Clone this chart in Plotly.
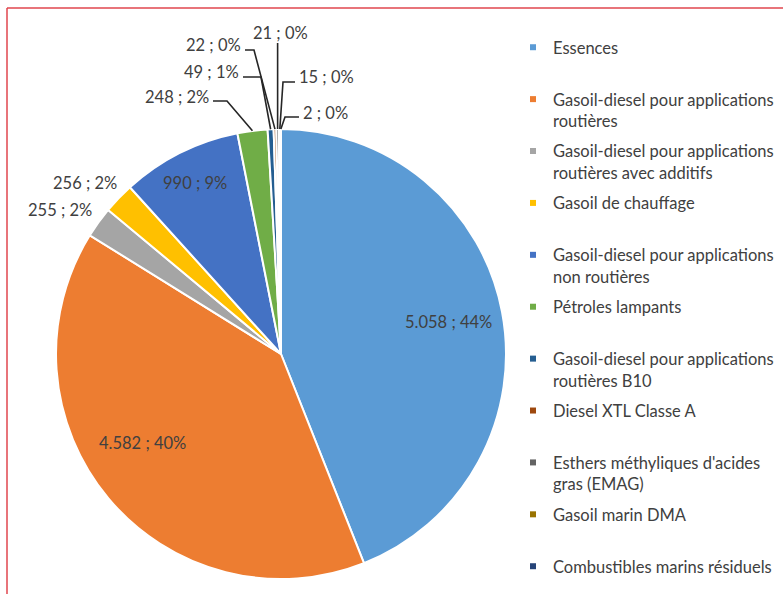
import math
import plotly.graph_objects as go

# ---------------- data ----------------
categories = [
    "Essences",
    "Gasoil-diesel pour applications routières",
    "Gasoil-diesel pour applications routières avec additifs",
    "Gasoil de chauffage",
    "Gasoil-diesel pour applications non routières",
    "Pétroles lampants",
    "Gasoil-diesel pour applications routières B10",
    "Diesel XTL Classe A",
    "Esthers méthyliques d'acides gras (EMAG)",
    "Gasoil marin DMA",
    "Combustibles marins résiduels",
]
legend_labels = [
    "Essences",
    "Gasoil-diesel pour applications<br>routières",
    "Gasoil-diesel pour applications<br>routières avec additifs",
    "Gasoil de chauffage",
    "Gasoil-diesel pour applications<br>non routières",
    "Pétroles lampants",
    "Gasoil-diesel pour applications<br>routières B10",
    "Diesel XTL Classe A",
    "Esthers méthyliques d'acides<br>gras (EMAG)",
    "Gasoil marin DMA",
    "Combustibles marins résiduels",
]
values = [5058, 4582, 255, 256, 990, 248, 49, 22, 21, 15, 2]
pct_labels = [44, 40, 2, 2, 9, 2, 1, 0, 0, 0, 0]
colors = ["#5B9BD5", "#ED7D31", "#A5A5A5", "#FFC000", "#4472C4", "#70AD47",
          "#255E91", "#9E480E", "#636363", "#997300", "#264478"]

# ---------------- layout constants ----------------
W, H = 783, 594
CX, CY, R = 281, 354, 225
FONT = "Lato, 'Open Sans', sans-serif"
TXT = "#404040"
FS = 16.5
total = sum(values)


def px2paper(x, y):
    return x / W, 1 - y / H


def slice_point(i, frac):
    mid = sum(values[:i]) + values[i] / 2
    th = 2 * math.pi * mid / total
    return CX + frac * R * math.sin(th), CY - frac * R * math.cos(th)


def label_text(i):
    return f"{values[i]:,}".replace(",", ".") + f" ; {pct_labels[i]}%"


fig = go.Figure()
fig.add_trace(go.Pie(
    labels=categories, values=values, sort=False, direction="clockwise",
    rotation=0, marker=dict(colors=colors, line=dict(color="white", width=2)),
    textinfo="none", showlegend=False, hoverinfo="label+value+percent",
    domain=dict(x=[(CX - R) / W, (CX + R) / W],
                y=[(H - CY - R) / H, (H - CY + R) / H]),
))

# legend entries (small square markers)
for i, (lab, col) in enumerate(zip(legend_labels, colors)):
    name = lab if ("<br>" in lab or i == len(legend_labels) - 1) else lab + "<br> "
    fig.add_trace(go.Scatter(x=[None], y=[None], mode="markers", name=name,
                             legendgroup=str(i),
                             marker=dict(symbol="square", size=6, color=col)))

annotations = []
shapes = []
lab_font = dict(size=FS, color=TXT, family=FONT)

# labels placed relative to their slice: index -> (radial fraction, dx, dy, xanchor)
placed = {
    0: (0.76, 0, 0, "center"),
    1: (0.73, -13, -16, "center"),
    4: (0.85, 0, 0, "center"),
    2: (1.0, -5, -12, "right"),
    3: (1.0, 0, -15, "right"),
}
for i, (fr, dx, dy, anc) in placed.items():
    x, y = slice_point(i, fr)
    xp, yp = px2paper(x + dx, y + dy)
    annotations.append(dict(x=xp, y=yp, xref="paper", yref="paper", text=label_text(i),
                            xanchor=anc, yanchor="middle", showarrow=False, font=lab_font))

# outside labels with leader lines: (text x, text y, anchor, line start x, line y, elbow x)
leaders = {
    5: (211, 97, "right", 213, 101, 227),
    6: (241, 72, "right", 243, 77, 261),
    7: (243, 45, "right", 245, 50, 254),
    8: (280, 33, "center", None, 43, None),
    9: (297, 77, "left", 295, 82, 283),
    10: (301, 113, "left", 299, 117, 285),
}
for i, (tx, ty, anc, sx, ly, ex) in leaders.items():
    xp, yp = px2paper(tx, ty)
    annotations.append(dict(x=xp, y=yp, xref="paper", yref="paper", text=label_text(i),
                            xanchor=anc, yanchor="middle", showarrow=False, font=lab_font))
    px_, py_ = slice_point(i, 1.0)
    if sx is None:
        sx = ex = px_
    p = [px2paper(sx, ly), px2paper(ex, ly), px2paper(px_, py_)]
    path = "M {:.5f},{:.5f} L {:.5f},{:.5f} L {:.5f},{:.5f}".format(
        p[0][0], p[0][1], p[1][0], p[1][1], p[2][0], p[2][1])
    shapes.append(dict(type="path", xref="paper", yref="paper", path=path,
                       line=dict(color="#262626", width=1.6)))

# red frame (top and left)
bx, by = px2paper(7, 8)
shapes.append(dict(type="line", xref="paper", yref="paper", x0=bx, y0=by, x1=1, y1=by,
                   line=dict(color="#E0464E", width=1.5)))
shapes.append(dict(type="line", xref="paper", yref="paper", x0=bx, y0=by, x1=bx, y1=0,
                   line=dict(color="#E0464E", width=1.5)))

fig.update_layout(
    width=W, height=H, margin=dict(l=0, r=0, t=0, b=0),
    paper_bgcolor="white", plot_bgcolor="white",
    font=dict(family=FONT, size=FS, color=TXT),
    xaxis=dict(visible=False), yaxis=dict(visible=False),
    showlegend=True,
    legend=dict(x=(553 - 40) / W, xanchor="left", y=1 - 30 / H, yanchor="top",
                valign="top", tracegroupgap=6, itemwidth=30,
                font=dict(size=FS, color=TXT, family=FONT), bgcolor="rgba(0,0,0,0)"),
    annotations=annotations, shapes=shapes,
)

fig.write_html("out.html", config={"displayModeBar": False},
               post_script="document.body.style.margin='0px';")
